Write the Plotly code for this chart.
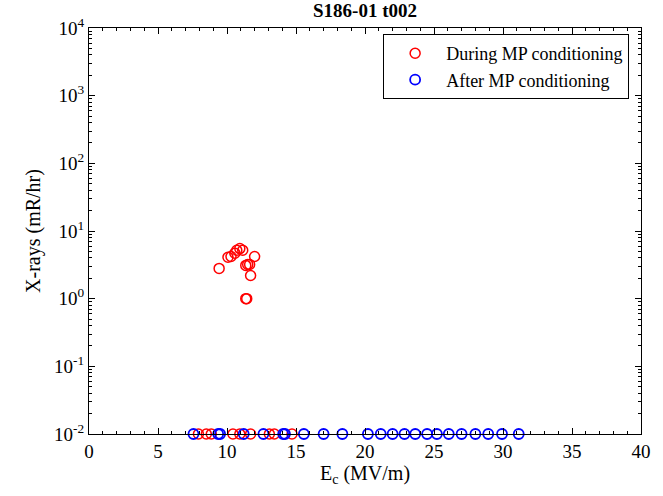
import plotly.graph_objects as go

# Red: during MP conditioning
during_x = [9.43, 10.07, 10.29, 10.57, 10.71, 10.93, 11.14, 11.36, 11.5, 11.64, 11.71, 12.0, 11.36, 11.43,
            7.93, 8.5, 8.86, 10.43, 10.93, 11.71, 13.07, 13.43, 14.71]
during_y = [2.8, 4.1, 4.2, 4.7, 5.2, 5.5, 5.2, 3.1, 3.2, 3.2, 2.2, 4.2, 1.0, 1.0,
            0.01, 0.01, 0.01, 0.01, 0.01, 0.01, 0.01, 0.01, 0.01]

# Blue: after MP conditioning
after_x = [7.57, 9.36, 9.5, 11.21, 12.64, 14.07, 14.2, 15.57, 17.0, 18.36, 20.21, 21.14, 22.0, 22.86,
           23.64, 24.5, 25.21, 26.07, 27.0, 28.0, 28.93, 29.93, 31.14]
after_y = [0.01] * len(after_x)

title = "S186-01 t002"
x_title = "E<sub>c</sub> (MV/m)"
y_title = "X-rays (mR/hr)"
y_tickvals = [0.01, 0.1, 1, 10, 100, 1000, 10000]
y_ticktext = ["10<sup>-2</sup>", "10<sup>-1</sup>", "10<sup>0</sup>", "10<sup>1</sup>",
              "10<sup>2</sup>", "10<sup>3</sup>", "10<sup>4</sup>"]
x_tickvals = [0, 5, 10, 15, 20, 25, 30, 35, 40]

font_family = "Liberation Serif, Times New Roman, serif"

fig = go.Figure()
fig.add_trace(go.Scatter(x=during_x, y=during_y, mode="markers", name="During MP conditioning",
                         marker=dict(symbol="circle-open", size=10, color="red", line=dict(width=1.5, color="red")),
                         cliponaxis=False))
fig.add_trace(go.Scatter(x=after_x, y=after_y, mode="markers", name="After MP conditioning",
                         marker=dict(symbol="circle-open", size=10, color="blue", line=dict(width=1.8, color="blue")),
                         cliponaxis=False))

fig.update_layout(
    width=663, height=496,
    margin=dict(l=89, r=14, t=28, b=62),
    paper_bgcolor="white", plot_bgcolor="white",
    font=dict(family=font_family, size=19, color="black"),
    title=dict(text="<b>" + title + "</b>", x=0.5, xref="paper", xanchor="center",
               y=1 - 4 / 496, yref="container", yanchor="top",
               font=dict(size=19, family=font_family)),
    showlegend=True,
    legend=dict(x=0.9785, y=0.985, xanchor="right", yanchor="top", bordercolor="black", borderwidth=1,
                bgcolor="white", font=dict(size=18, family=font_family), itemwidth=52,
                tracegroupgap=0),
)
fig.update_xaxes(
    range=[0, 40], tickvals=x_tickvals, showgrid=False, zeroline=False,
    showline=True, linecolor="black", linewidth=1, mirror="ticks",
    ticks="inside", ticklen=6, tickcolor="black",
    minor=dict(ticks="inside", ticklen=3, tickcolor="black", showgrid=False, dtick=1),
    title=dict(text=x_title, font=dict(size=20), standoff=4),
)
fig.update_yaxes(
    type="log", range=[-2, 4], tickvals=y_tickvals, ticktext=y_ticktext, showgrid=False, zeroline=False,
    showline=True, linecolor="black", linewidth=1, mirror="ticks",
    ticks="inside", ticklen=6, tickcolor="black",
    minor=dict(ticks="inside", ticklen=3, tickcolor="black", showgrid=False,
               tickvals=[m * 10 ** e for e in range(-2, 4) for m in range(2, 10)]),
    title=dict(text=y_title, font=dict(size=20), standoff=8),
)

fig.write_html("out.html")
